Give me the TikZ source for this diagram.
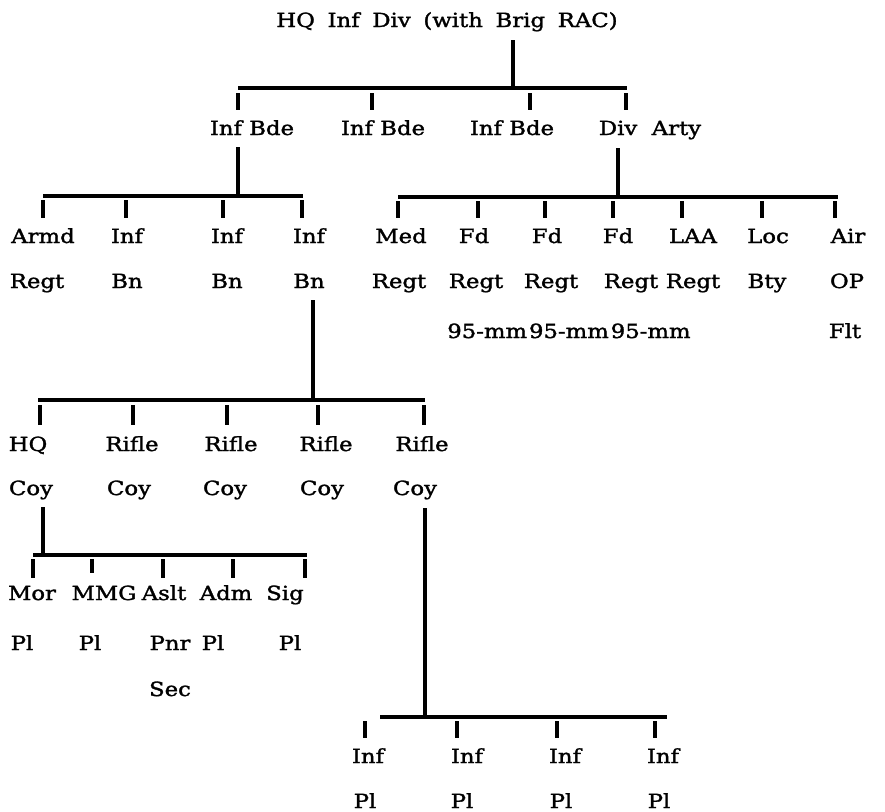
\documentclass[tikz,border=0pt]{standalone}
\usepackage{fontspec}
\setmainfont{DejaVu Serif}[FakeStretch=1.17,FakeBold=1.6]
\newfontfamily\titlefont{DejaVu Serif}[FakeStretch=1.17,FakeBold=1.6,WordSpace=1.75]
\begin{document}
\begin{tikzpicture}[x=0.75pt,y=-0.75pt,
  lbl/.style={anchor=base, inner sep=0pt, font=\fontsize{14.6}{17}\selectfont},
  bar/.style={line width=3.2pt, line cap=butt}]
\useasboundingbox (0,0) rectangle (885,811);
% labels
\node[lbl, font=\titlefont\fontsize{14.6}{17}\selectfont] (title) at (447,27) {HQ Inf Div (with Brig RAC)};
\node[lbl] (b1) at (252,135) {Inf Bde};
\node[lbl] (b2) at (383,135) {Inf Bde};
\node[lbl] (b3) at (512,135) {Inf Bde};
\node[lbl] (da) at (650,135) {Div\ \ Arty};
% row 2
\foreach \x/\t/\n in {43/Armd/r2a,127/Inf/r2b,227/Inf/r2c,309/Inf/r2d,401/Med/r2e,474/Fd/r2f,547/Fd/r2g,618/Fd/r2h,693/LAA/r2i,768/Loc/r2j,848/Air/r2k}
  \node[lbl] (\n) at (\x,243) {\t};
\foreach \x/\t/\n in {37/Regt/s2a,127/Bn/s2b,227/Bn/s2c,309/Bn/s2d,399/Regt/s2e,476/Regt/s2f,551/Regt/s2g,631/Regt/s2h,693/Regt/s2i,767/Bty/s2j,847/OP/s2k}
  \node[lbl] (\n) at (\x,288) {\t};
\node[lbl, anchor=base west] (t2f) at (447,338) {95-mm};
\node[lbl, anchor=base west] (t2g) at ([xshift=1pt]t2f.base east) {95-mm};
\node[lbl, anchor=base west] (t2h) at ([xshift=1pt]t2g.base east) {95-mm};
\node[lbl] (t2k) at (845,338) {Flt};
% row 3
\foreach \x/\t/\n in {28/HQ/r3a,132/Rifle/r3b,231/Rifle/r3c,326/Rifle/r3d,422/Rifle/r3e}
  \node[lbl] (\n) at (\x,451) {\t};
\foreach \x/\n in {31/s3a,129/s3b,225/s3c,322/s3d,415/s3e}
  \node[lbl] (\n) at (\x,495) {Coy};
% row 4
\foreach \x/\t/\n in {32/Mor/r4a,104/MMG/r4b,164/Aslt/r4c,226/Adm/r4d,285/Sig/r4e}
  \node[lbl] (\n) at (\x,600) {\t};
\foreach \x/\t/\n in {22/Pl/s4a,90/Pl/s4b,170/Pnr/s4c,213/Pl/s4d,290/Pl/s4e}
  \node[lbl] (\n) at (\x,650) {\t};
\node[lbl] (t4c) at (170,696) {Sec};
% row 5
\foreach \x/\n in {368/r5a,467/r5b,565/r5c,663/r5d}
  \node[lbl] (\n) at (\x,763) {Inf};
\foreach \x/\n in {365/s5a,462/s5b,561/s5c,659/s5d}
  \node[lbl] (\n) at (\x,808) {Pl};
% connectors: division
\draw[bar] (513,40) -- (513,89);
\draw[bar] (238,88) -- (627,88);
\foreach \x in {238,372,530,626} \draw[bar] (\x,93) -- (\x,110);
% brigade
\draw[bar] (238,147) -- (238,194);
\draw[bar] (43,196) -- (303,196);
\foreach \x in {43,126,223,302} \draw[bar] (\x,200) -- (\x,218);
% div arty
\draw[bar] (618,148) -- (618,195);
\draw[bar] (398,197) -- (838,197);
\foreach \x in {398,478,545,613,682,762,835} \draw[bar] (\x,201) -- (\x,218);
% battalion
\draw[bar] (313,300) -- (313,398);
\draw[bar] (38,400) -- (425,400);
\foreach \x in {40,133,227,318,424} \draw[bar] (\x,405) -- (\x,425);
% HQ coy
\draw[bar] (43,507) -- (43,553);
\draw[bar] (33,555) -- (307,555);
\foreach \x in {33,163,233,305} \draw[bar] (\x,559) -- (\x,578);
\draw[bar] (92,559) -- (92,573);
% rifle coy
\draw[bar] (425,508) -- (425,716);
\draw[bar] (380,717) -- (667,717);
\foreach \x in {365,457,557,655} \draw[bar] (\x,721) -- (\x,738);
\end{tikzpicture}
\end{document}
